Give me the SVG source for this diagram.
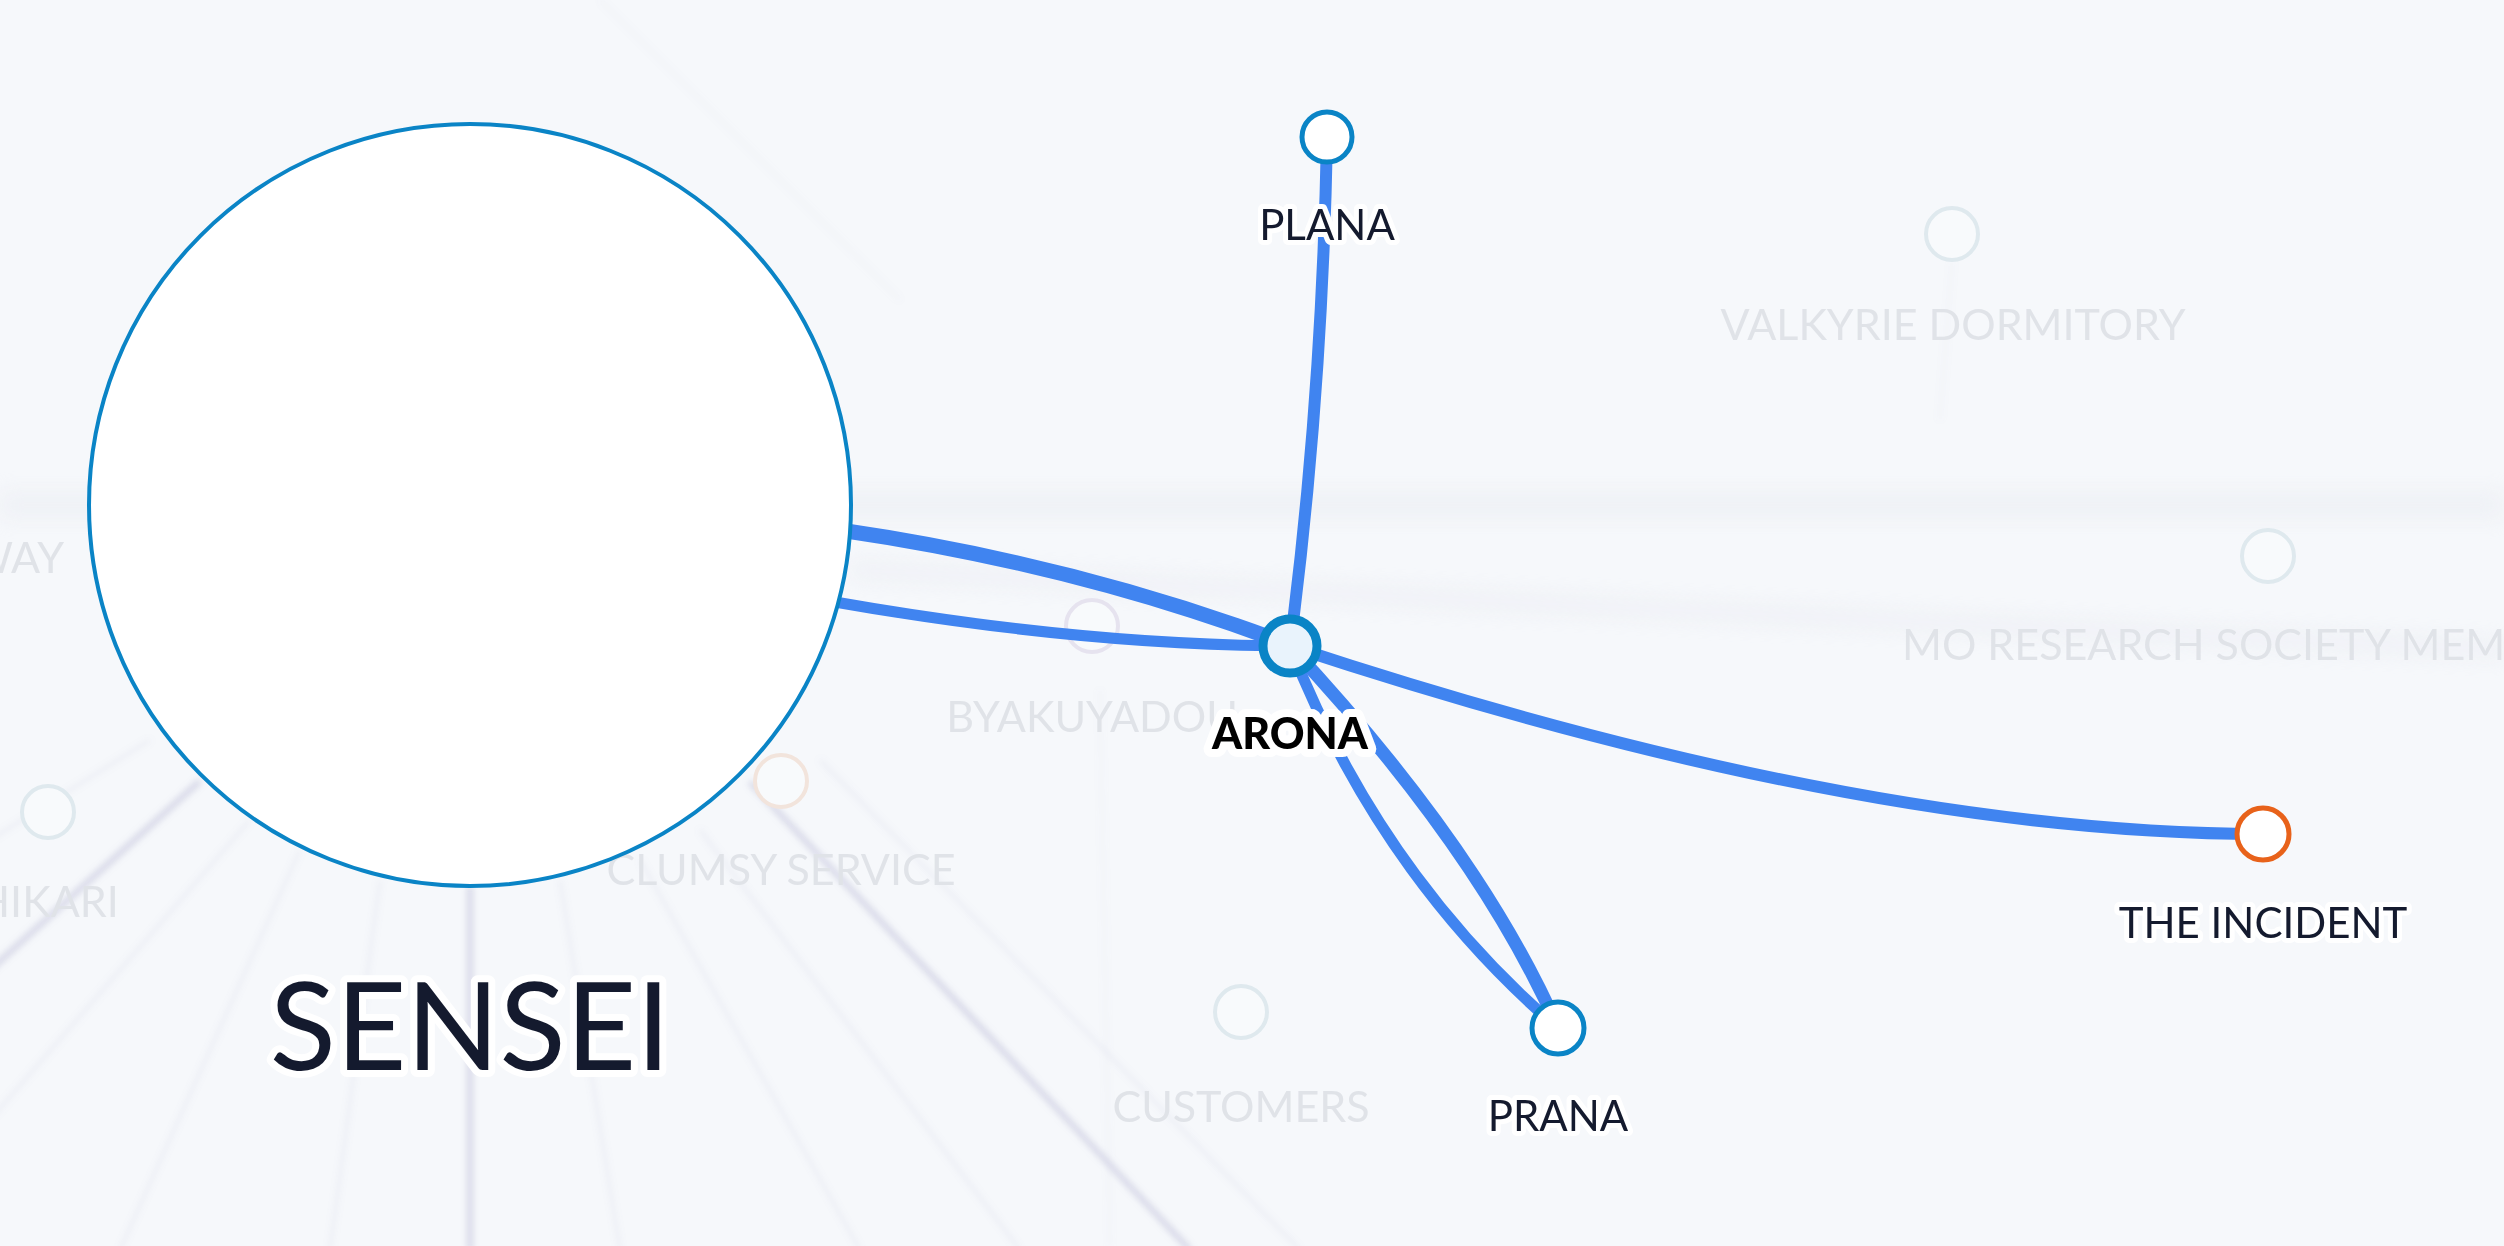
<svg xmlns="http://www.w3.org/2000/svg" width="2504" height="1246" viewBox="0 0 2504 1246">
<style>
.ghostn{fill:#f8fafc;stroke:#dfe9ee;stroke-width:4}
.ghostt{font-family:Lato,"Liberation Sans",sans-serif;font-size:43px;fill:#e0e3e8;text-anchor:middle}
.edge{fill:none;stroke:#4084f0;stroke-linecap:round}
.node{fill:#ffffff;stroke:#0a84c6;stroke-width:5}
.lbl{font-family:Lato,"Liberation Sans",sans-serif;font-size:42px;fill:#141a2e;text-anchor:middle;stroke:#ffffff;stroke-width:10;stroke-linejoin:round;paint-order:stroke}
.ray{stroke:#9a9cc4;fill:none}
</style>
<defs>
<filter id="blur" x="-20%" y="-20%" width="140%" height="140%"><feGaussianBlur stdDeviation="3"/></filter>
<filter id="blur2" x="-20%" y="-20%" width="140%" height="140%"><feGaussianBlur stdDeviation="10"/></filter>
</defs>
<rect x="0" y="0" width="2504" height="1246" fill="#f6f8fb"/>
<g id="background">
<g filter="url(#blur)">
<g class="ray" stroke-width="6" opacity="0.35">
<line x1="200" y1="781" x2="-10" y2="970"/>
<line x1="750" y1="782" x2="1190" y2="1250"/>
<line x1="470" y1="886" x2="470" y2="1250"/>
</g>
<g class="ray" stroke-width="3" opacity="0.14">
<line x1="300" y1="850" x2="120" y2="1250"/>
<line x1="380" y1="880" x2="330" y2="1250"/>
<line x1="560" y1="880" x2="620" y2="1250"/>
<line x1="640" y1="860" x2="860" y2="1250"/>
<line x1="700" y1="830" x2="1020" y2="1250"/>
<line x1="820" y1="760" x2="1300" y2="1250"/>
<line x1="150" y1="740" x2="-10" y2="840"/>
<line x1="250" y1="820" x2="-10" y2="1120"/>
</g>
<g class="ray" stroke-width="2" opacity="0.10">
<line x1="1952" y1="262" x2="1940" y2="420"/>
<line x1="1100" y1="690" x2="1110" y2="1246"/>
<line x1="600" y1="0" x2="900" y2="300"/>
</g>
</g>
<g filter="url(#blur2)" opacity="0.35">
<rect x="0" y="490" width="2504" height="30" fill="#e4e6ee"/>
<path d="M 850 560 L 2504 640 L 2504 660 L 850 580 Z" fill="#e4e6ee"/>
</g>
</g>
<g id="ghost-nodes">
<circle class="ghostn" cx="1952" cy="234" r="26"/>
<text class="ghostt" x="1953" y="340">VALKYRIE DORMITORY</text>
<circle class="ghostn" cx="2268" cy="556" r="26"/>
<text class="ghostt" x="1902" y="660" style="text-anchor:start">MO RESEARCH SOCIETY MEM</text>
<circle class="ghostn" cx="1092" cy="626" r="26" style="stroke:#e6e3ef"/>
<text class="ghostt" x="1092" y="732">BYAKUYADOU</text>
<circle class="ghostn" cx="781" cy="781" r="26" style="stroke:#f2e4dc"/>
<text class="ghostt" x="781" y="885">CLUMSY SERVICE</text>
<circle class="ghostn" cx="48" cy="812" r="26"/>
<text class="ghostt" x="48" y="917">HIKARI</text>
<text class="ghostt" x="64" y="573" style="text-anchor:end">WAY</text>
<circle class="ghostn" cx="1241" cy="1012" r="26"/>
<text class="ghostt" x="1241" y="1122">CUSTOMERS</text>
</g>
<g id="connectors">
<path class="edge" stroke-width="15" d="M 840 530 Q 1080 565 1290 645"/>
<path class="edge" stroke-width="11" d="M 835 602 Q 1080 645 1290 646"/>
<path class="edge" stroke-width="12" d="M 1290 646 Q 1322 400 1327 137"/>
<path class="edge" stroke-width="12" d="M 1290 646 Q 1860 834 2263 834"/>
<path class="edge" stroke-width="11" d="M 1290 646 Q 1380 875 1558 1028"/>
<path class="edge" stroke-width="13" d="M 1290 646 Q 1480 850 1558 1028"/>
</g>
<g id="node-sensei">
<circle cx="470" cy="505" r="381" fill="#ffffff" stroke="#0a84c6" stroke-width="4"/>
<text class="lbl" x="470" y="1070" style="font-size:122px;stroke-width:14">SENSEI</text>
</g>
<g id="node-arona">
<circle cx="1290" cy="646" r="27" fill="#e9f3fc" stroke="#0a84c6" stroke-width="9"/>
<text class="lbl" x="1290" y="749" style="font-size:43px;font-weight:900;fill:#000000;stroke-width:16">ARONA</text>
</g>
<g id="node-plana">
<circle class="node" cx="1327" cy="137" r="25"/>
<text class="lbl" x="1327" y="240">PLANA</text>
</g>
<g id="node-prana">
<circle class="node" cx="1558" cy="1028" r="26"/>
<text class="lbl" x="1558" y="1131">PRANA</text>
</g>
<g id="node-the-incident">
<circle class="node" cx="2263" cy="834" r="26" style="stroke:#e8621a"/>
<text class="lbl" x="2263" y="938">THE INCIDENT</text>
</g>
</svg>
